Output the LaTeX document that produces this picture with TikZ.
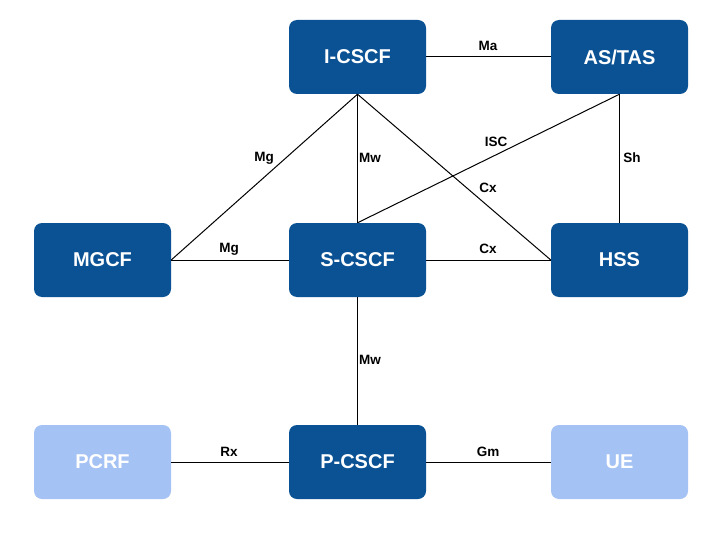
\documentclass[tikz,border=0pt]{standalone}
\usepackage{fontspec}
\setmainfont{Liberation Sans}
\definecolor{dk}{RGB}{11,82,148}
\definecolor{lt}{RGB}{164,194,244}
\begin{document}
\begin{tikzpicture}[x=1pt,y=-1pt,
  box/.style={rounded corners=8pt,minimum width=137pt,minimum height=74pt,inner sep=0pt,font=\fontsize{20}{24}\selectfont\bfseries,text=white},
  darkbox/.style={box,fill=dk},
  lightbox/.style={box,fill=lt},
  conn/.style={line width=1pt,black},
  lbl/.style={font=\fontsize{13.5}{16}\selectfont\bfseries,inner sep=0pt}]
\useasboundingbox (0,0) rectangle (727,540);
\node[darkbox] (icscf) at (357.5,57) {I-CSCF};
\node[darkbox] (as) at (619.5,57) {AS/TAS};
\node[darkbox] (mgcf) at (102.5,260) {MGCF};
\node[darkbox] (scscf) at (357.5,260) {S-CSCF};
\node[darkbox] (hss) at (619.5,260) {HSS};
\node[lightbox] (pcrf) at (102.5,462) {PCRF};
\node[darkbox] (pcscf) at (357.5,462) {P-CSCF};
\node[lightbox] (ue) at (619.5,462) {UE};
\draw[conn] (icscf.east) -- (as.west);
\draw[conn] (icscf.south) -- (mgcf.east);
\draw[conn] (icscf.south) -- (scscf.north);
\draw[conn] (icscf.south) -- (hss.west);
\draw[conn] (as.south) -- (scscf.north);
\draw[conn] (as.south) -- (hss.north);
\draw[conn] (mgcf.east) -- (scscf.west);
\draw[conn] (scscf.east) -- (hss.west);
\draw[conn] (scscf.south) -- (pcscf.north);
\draw[conn] (pcrf.east) -- (pcscf.west);
\draw[conn] (pcscf.east) -- (ue.west);
\node[lbl] (lma) at (488,46) {Ma};
\node[lbl] (lmg1) at (264,158) {Mg};
\node[lbl] (lmw1) at (370,158) {Mw};
\node[lbl] (lisc) at (496,142) {ISC};
\node[lbl] (lsh) at (632,158) {Sh};
\node[lbl] (lcx1) at (488,188) {Cx};
\node[lbl] (lmg2) at (229,249) {Mg};
\node[lbl] (lcx2) at (488,249) {Cx};
\node[lbl] (lmw2) at (370,360) {Mw};
\node[lbl] (lrx) at (229,452) {Rx};
\node[lbl] (lgm) at (488,452) {Gm};
\end{tikzpicture}
\end{document}
